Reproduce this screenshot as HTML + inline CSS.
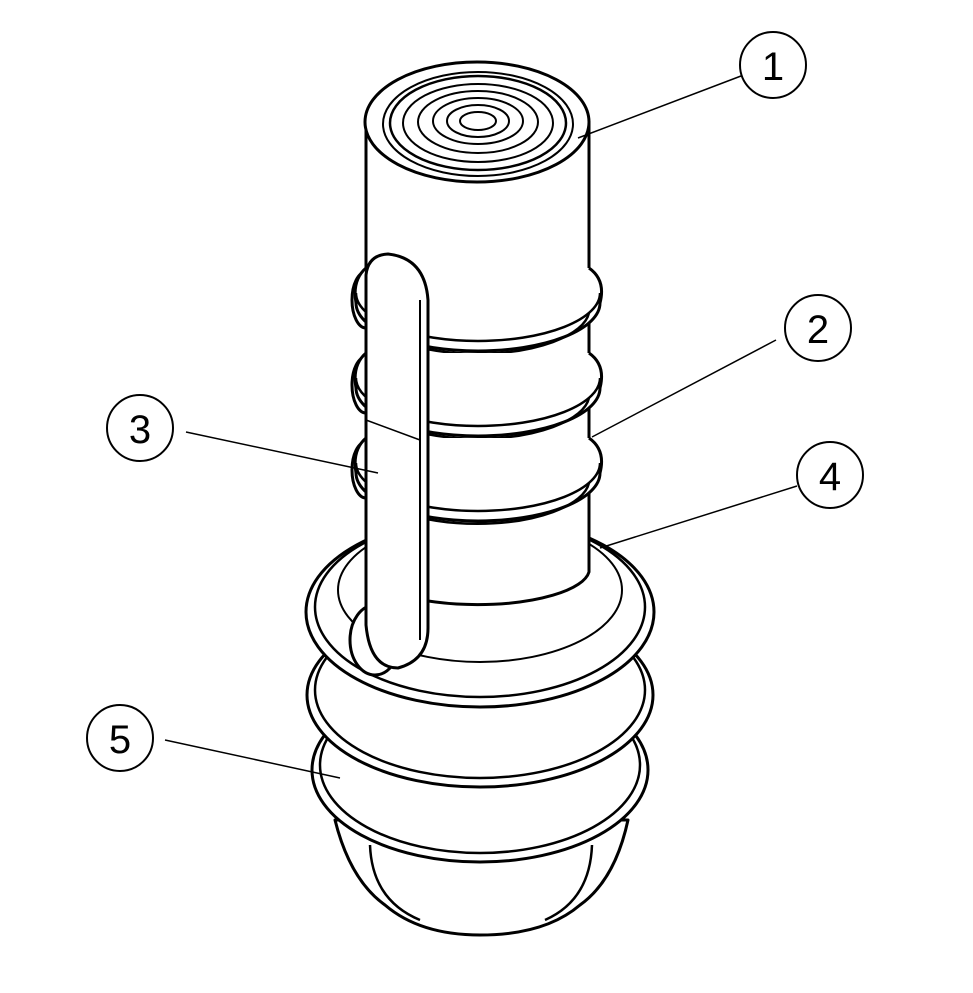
<!DOCTYPE html>
<html><head><meta charset="utf-8"><style>html,body{margin:0;padding:0;background:#fff}svg{display:block}</style></head>
<body>
<svg width="973" height="993" viewBox="0 0 973 993" xmlns="http://www.w3.org/2000/svg">
<g fill="#fff" stroke="#000" stroke-width="3" stroke-linejoin="round">
<!-- bottom dome -->
<path d="M335,820 Q350,880 385,905 Q420,935 480,935 Q545,935 580,905 Q615,880 628,820 Z"/>
<path d="M370,845 Q372,900 420,920 M592,845 Q590,900 545,920" fill="none" stroke-width="2.5"/>
<!-- flange 3 -->
<ellipse cx="480" cy="770" rx="168" ry="92"/>
<ellipse cx="480" cy="765" rx="160" ry="88" fill="none" stroke-width="2.5"/>
<!-- flange 2 -->
<ellipse cx="480" cy="695" rx="173" ry="92"/>
<ellipse cx="480" cy="690" rx="165" ry="88" fill="none" stroke-width="2.5"/>
<!-- flange 1 -->
<ellipse cx="480" cy="612" rx="174" ry="95"/>
<ellipse cx="480" cy="607" rx="165" ry="90" fill="none" stroke-width="2.5"/>
<ellipse cx="480" cy="590" rx="142" ry="72" stroke-width="2"/>
<!-- handle foot -->
<ellipse cx="375" cy="640" rx="25" ry="35"/>
<!-- left rib bulges -->
<ellipse cx="366" cy="300" rx="14" ry="28"/>
<ellipse cx="366" cy="385" rx="14" ry="28"/>
<ellipse cx="366" cy="470" rx="14" ry="28"/>
<!-- cylinder -->
<path d="M366,122 L366,572 A112,36 0 0 0 589,572 L589,122 Z"/>
<!-- ribs -->
<path d="M366,268 Q352,280 356,303 A122,48 0 0 0 600,303 Q606,280 589,268 Z" stroke="none"/>
<path d="M366,268 Q352,280 356,303 A122,48 0 0 0 600,303 Q606,280 589,268" fill="none"/>
<path d="M356,293 A122,48 0 0 0 600,293" fill="none" stroke-width="2.5"/>
<path d="M366,313 A112,45 0 0 0 589,313" fill="none" stroke-width="2.5"/>
<path d="M366,353 Q352,365 356,388 A122,48 0 0 0 600,388 Q606,365 589,353 Z" stroke="none"/>
<path d="M366,353 Q352,365 356,388 A122,48 0 0 0 600,388 Q606,365 589,353" fill="none"/>
<path d="M356,378 A122,48 0 0 0 600,378" fill="none" stroke-width="2.5"/>
<path d="M366,398 A112,45 0 0 0 589,398" fill="none" stroke-width="2.5"/>
<path d="M366,438 Q352,450 356,473 A122,48 0 0 0 600,473 Q606,450 589,438 Z" stroke="none"/>
<path d="M366,438 Q352,450 356,473 A122,48 0 0 0 600,473 Q606,450 589,438" fill="none"/>
<path d="M356,463 A122,48 0 0 0 600,463" fill="none" stroke-width="2.5"/>
<path d="M366,483 A112,45 0 0 0 589,483" fill="none" stroke-width="2.5"/>
<!-- top -->
<ellipse cx="477" cy="122" rx="112" ry="60"/>
<ellipse cx="478" cy="124" rx="95" ry="52" fill="none" stroke-width="2"/>
<ellipse cx="478" cy="123" rx="88" ry="47" fill="none" stroke-width="2.5"/>
<ellipse cx="478" cy="123" rx="75" ry="39" fill="none" stroke-width="2"/>
<ellipse cx="478" cy="122" rx="60" ry="31" fill="none" stroke-width="2"/>
<ellipse cx="478" cy="121" rx="45" ry="23" fill="none" stroke-width="2"/>
<ellipse cx="478" cy="121" rx="31" ry="16" fill="none" stroke-width="2"/>
<ellipse cx="478" cy="121" rx="18" ry="9" fill="none" stroke-width="2"/>
<!-- handle -->
<path d="M366,275 Q368,255 388,254 Q425,258 428,300 L428,628 Q428,660 398,668 Q370,668 366,625 Z"/>
<path d="M420,300 L420,640" fill="none" stroke-width="2"/>
<path d="M366,420 L420,440" fill="none" stroke-width="1.5"/>
</g>
<!-- leaders -->
<g stroke="#000" stroke-width="1.5" fill="none">
<line x1="741" y1="76" x2="578" y2="138"/>
<line x1="776" y1="340" x2="592" y2="437"/>
<line x1="186" y1="432" x2="378" y2="473"/>
<line x1="797" y1="486" x2="600" y2="548"/>
<line x1="165" y1="740" x2="340" y2="778"/>
</g>
<g stroke="#000" stroke-width="2" fill="#fff">
<circle cx="773" cy="65" r="33"/>
<circle cx="818" cy="328" r="33"/>
<circle cx="140" cy="428" r="33"/>
<circle cx="830" cy="475" r="33"/>
<circle cx="120" cy="738" r="33"/>
</g>
<g font-family="Liberation Sans, sans-serif" font-size="40" text-anchor="middle">
<text x="773" y="80">1</text>
<text x="818" y="343">2</text>
<text x="140" y="443">3</text>
<text x="830" y="490">4</text>
<text x="120" y="753">5</text>
</g>
</svg>
</body></html>
